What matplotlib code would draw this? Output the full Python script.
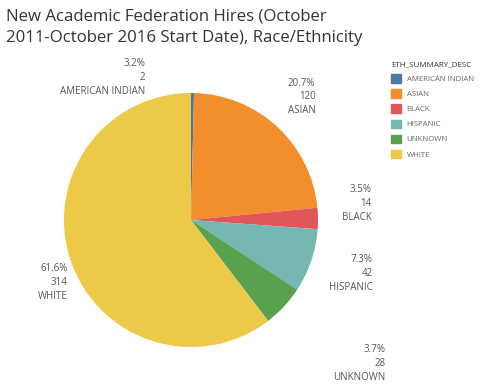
import matplotlib
matplotlib.use("Agg")
import matplotlib.pyplot as plt
from matplotlib.patches import Patch

plt.rcParams['font.family'] = ['Open Sans', 'DejaVu Sans']

categories = ["AMERICAN INDIAN", "ASIAN", "BLACK", "HISPANIC", "UNKNOWN", "WHITE"]
counts = [2, 120, 14, 42, 28, 314]
pct_labels = ["3.2%", "20.7%", "3.5%", "7.3%", "3.7%", "61.6%"]
colors = ["#4e79a7", "#f28e2b", "#e15759", "#76b7b2", "#59a14f", "#edc948"]

# label anchor points (right edge, middle), in pie-radius units
label_pos = [(-0.36, 1.12), (0.98, 0.97), (1.42, 0.13),
             (1.43, -0.42), (1.53, -1.13), (-0.97, -0.49)]

fig = plt.figure(figsize=(5, 3.85), dpi=100)
ax = fig.add_axes([0, 0, 1, 1])
ax.pie(counts, colors=colors, startangle=90, counterclock=False,
       radius=1.0, wedgeprops=dict(linewidth=0))
ax.set_xlim(-191 / 127, 309 / 127)
ax.set_ylim(-165 / 127, 220 / 127)
ax.set_aspect("equal")
ax.axis("off")

for cat, n, p, (x, y) in zip(categories, counts, pct_labels, label_pos):
    ax.text(x, y, f"{p}\n{n}\n{cat}", ha="right", va="center",
            fontsize=7, color="#555555", linespacing=1.35)

fig.text(0.012, 0.978, "New Academic Federation Hires (October\n2011-October 2016 Start Date), Race/Ethnicity",
         ha="left", va="top", fontsize=12.1, color="#333333", linespacing=1.5)

handles = [Patch(facecolor=c, edgecolor=c) for c in colors]
leg = fig.legend(handles, categories, title="ETH_SUMMARY_DESC",
                 loc="upper left", bbox_to_anchor=(388 / 500, 1 - 58 / 385),
                 frameon=False, fontsize=5.6, title_fontsize=5.8,
                 handlelength=1.3, handleheight=1.3, handletextpad=0.7,
                 labelspacing=0.8, borderaxespad=0)
leg._legend_box.align = "left"
for t in leg.get_texts():
    t.set_color("#666666")
leg.get_title().set_color("#333333")

fig.savefig("out.png", dpi=100)
